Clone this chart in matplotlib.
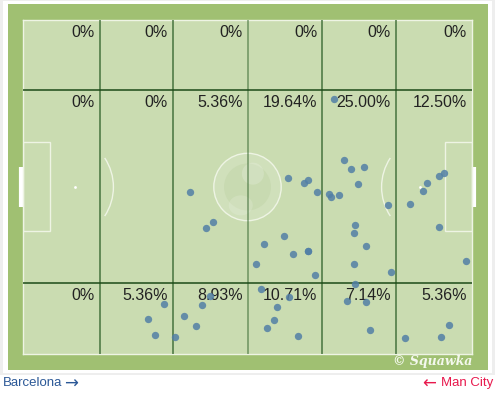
"""Pass map on a zonal pitch: Barcelona vs Man City."""

import matplotlib
matplotlib.use("Agg")
import matplotlib.pyplot as plt
from matplotlib.patches import Rectangle, Ellipse, Arc

W, H = 496, 396

# pass locations in pitch units (x: 0-100 along the length, y: 0-100 across, 0 = top)
pass_x = [37.3, 42.4, 40.8,
          59.1, 62.5, 63.5, 65.4, 53.6, 58.2, 60.1, 63.5, 63.5, 51.8, 65.0,
          69.2, 68.2, 68.7, 70.4, 71.6, 73.1, 76.0, 74.5, 81.2, 74.0, 73.7, 76.4, 73.7, 82.0,
          86.1, 89.0, 89.9, 92.6, 93.7, 92.7, 98.7,
          31.5, 27.8, 29.4,
          41.7, 39.8, 35.9, 38.5, 33.9,
          53.0, 59.2, 56.6, 56.0, 54.3, 61.3,
          74.0, 72.1, 76.4, 77.2,
          85.0, 93.2, 94.9]
pass_y = [51.6, 60.6, 62.4,
          47.3, 48.7, 48.0, 51.5, 67.0, 64.8, 70.1, 69.3, 69.3, 73.1, 76.3,
          23.6, 52.2, 53.1, 52.3, 42.0, 44.5, 43.9, 49.1, 55.5, 61.4, 63.9, 67.7, 73.1, 75.5,
          55.0, 51.2, 48.7, 46.6, 45.7, 61.9, 72.1,
          85.1, 89.6, 94.2,
          82.6, 85.3, 88.7, 91.6, 94.9,
          80.4, 82.8, 85.9, 89.8, 92.3, 94.7,
          79.0, 84.2, 84.3, 92.8,
          95.3, 94.9, 91.4]

zone_x_edges = [0, 17.1, 33.4, 50, 66.7, 83.0, 100]
zone_y_edges = [0, 21.0, 78.7, 100]
zone_labels = [
    ["0%", "0%", "0%", "0%", "0%", "0%"],
    ["0%", "0%", "5.36%", "19.64%", "25.00%", "12.50%"],
    ["0%", "5.36%", "8.93%", "10.71%", "7.14%", "5.36%"],
]

home_team = "Barcelona"
away_team = "Man City"

PITCH = "#cadcb1"
FRAME = "#a0c072"
LINE = "#eef4e4"
GRID = "#2f6129"
DOT = "#527fa6"

# pitch area in pixels
PX0, PX1, PY0, PY1 = 23, 472, 20, 354
sx = 100 / (PX1 - PX0)   # data units per pixel, horizontal
sy = 100 / (PY1 - PY0)   # data units per pixel, vertical


def fig_rect(fig, x0, y0, x1, y1, color):
    fig.add_artist(Rectangle((x0 / W, 1 - y1 / H), (x1 - x0) / W, (y1 - y0) / H,
                             transform=fig.transFigure, color=color, lw=0, zorder=0))


fig = plt.figure(figsize=(W / 100, H / 100), dpi=100)
fig.patch.set_facecolor("white")
fig_rect(fig, 0, 0, 495, 375, "#eeeeee")
fig_rect(fig, 3, 1, 492, 373, "white")
fig_rect(fig, 8, 4, 488, 370, FRAME)

ax = fig.add_axes([PX0 / W, 1 - PY1 / H, (PX1 - PX0) / W, (PY1 - PY0) / H])
ax.set_xlim(0, 100)
ax.set_ylim(100, 0)
ax.set_facecolor(PITCH)
ax.set_xticks([])
ax.set_yticks([])
for s in ax.spines.values():
    s.set_color(LINE)
    s.set_linewidth(1)

# pitch markings
ax.add_patch(Ellipse((50, 50), 2 * 33.7 * sx, 2 * 33.7 * sy, facecolor="white", alpha=0.13, lw=0))
ax.add_patch(Ellipse((50, 50), 2 * 33.7 * sx, 2 * 33.7 * sy, fill=False, edgecolor=LINE, lw=1))
ax.add_patch(Ellipse((50, 50), 2 * 23.5 * sx, 2 * 23.5 * sy, facecolor="#bfd3a6", alpha=0.45, lw=0))
ax.add_patch(Ellipse((51.2, 46.0), 2 * 11 * sx, 2 * 11 * sy, facecolor="white", alpha=0.18, lw=0))
ax.add_patch(Ellipse((48.5, 55.5), 2 * 12 * sx, 2 * 10 * sy, facecolor="white", alpha=0.15, lw=0))

ax.add_patch(Rectangle((0, 36.5), 27 * sx, 26.7, fill=False, edgecolor=LINE, lw=1))
ax.add_patch(Rectangle((100 - 27 * sx, 36.5), 27 * sx, 26.7, fill=False, edgecolor=LINE, lw=1))
ax.add_patch(Arc((8.4, 50), 2 * 52.7 * sx, 2 * 52.7 * sy, theta1=-41.6, theta2=41.6,
                 edgecolor=LINE, lw=1))
ax.add_patch(Arc((91.6, 50), 2 * 52.7 * sx, 2 * 52.7 * sy, theta1=138.4, theta2=221.6,
                 edgecolor=LINE, lw=1))
ax.plot([11.6], [50], "o", color="white", markersize=2, markeredgewidth=0)
ax.plot([88.4], [50], "o", color="white", markersize=2, markeredgewidth=0)
ax.plot([-0.35, -0.35], [44.0, 55.9], color="white", lw=3, solid_capstyle="butt", clip_on=False)
ax.plot([100.35, 100.35], [44.0, 55.9], color="white", lw=3, solid_capstyle="butt", clip_on=False)
for cx, cy, t1 in [(0, 0, 270), (100, 0, 180), (100, 100, 90), (0, 100, 0)]:
    ax.add_patch(Arc((cx, cy), 8 * sx, 8 * sy, theta1=t1, theta2=t1 + 90, edgecolor=LINE, lw=0.8))

# zone grid
for xe in zone_x_edges[1:-1]:
    ax.axvline(xe, color=GRID, lw=1.1, alpha=0.85 if xe != 50 else 0.6, zorder=3)
for ye in zone_y_edges[1:-1]:
    ax.axhline(ye, color="#1c4a18", lw=1.1, zorder=3)

# zone percentages
for r, row in enumerate(zone_labels):
    for c, lab in enumerate(row):
        ax.text(zone_x_edges[c + 1] - 5 * sx, zone_y_edges[r] + 5 * sy, lab,
                ha="right", va="top", fontsize=11.5, color="#222222",
                family="Liberation Sans", zorder=4)

ax.scatter(pass_x, pass_y, s=28, color=DOT, alpha=0.85, linewidths=0, zorder=6)

fig.text(472 / W, 1 - 362 / H, "\u00a9 Squawka", ha="right", va="center",
         fontsize=9, color="#f4f8ee", style="italic", weight="bold", family="DejaVu Serif")

fig.text(3 / W, 1 - 383 / H, home_team, ha="left", va="center",
         fontsize=9.5, color="#2b5897", family="Liberation Sans")
fig.text(64 / W, 1 - 383.5 / H, "\u2192", ha="left", va="center",
         fontsize=12, color="#2b5897", family="DejaVu Sans")
fig.text(493 / W, 1 - 383 / H, away_team, ha="right", va="center",
         fontsize=9.5, color="#e8194d", family="Liberation Sans")
fig.text(422 / W, 1 - 383.5 / H, "\u2190", ha="left", va="center",
         fontsize=12, color="#e8194d", family="DejaVu Sans")

fig.savefig("out.png", dpi=100)
